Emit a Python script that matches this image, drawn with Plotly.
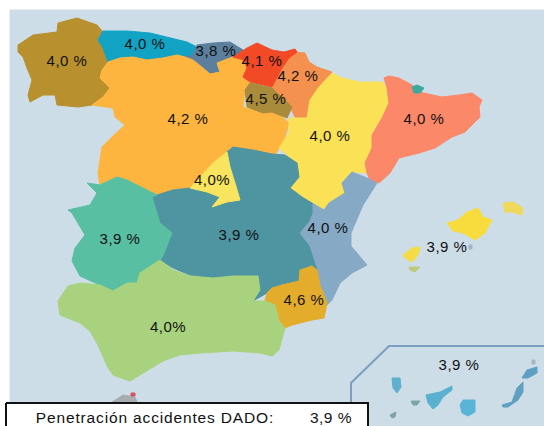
import plotly.graph_objects as go

W, H = 544, 426
SEA = "#cddde8"

# Region outlines (x, y in picture pixels)
sea = [(10,10),(544,10),(544,426),(10,426)]
galicia = [(18,45),(33,35),(57,32),(58,23),(77,18),(97,25),(103,32),(98,40),(103,48),(108,62),(102,70),(100,78),(110,88),(103,97),(92,105),(78,107),(57,105),(55,95),(43,95),(30,102),(28,95),(32,80),(27,68),(23,57),(18,52)]
asturias = [(103,31),(127,31),(150,33),(167,37),(187,42),(197,47),(193,55),(185,57),(177,55),(163,58),(147,60),(133,57),(120,58),(108,62),(103,48),(98,40)]
cantabria = [(197,45),(213,43),(230,42),(243,50),(233,57),(230,58),(217,63),(220,72),(210,74),(203,68),(193,60),(185,57),(193,55)]
pais_vasco = [(233,57),(247,48),(257,43),(272,50),(284,52),(295,49),(297,52),(289,58),(282,68),(276,80),(272,87),(250,82),(243,77),(247,68),(244,60)]
navarra = [(295,52),(305,53),(309,62),(317,67),(332,72),(319,87),(310,100),(307,118),(295,117),(289,105),(274,93),(272,87),(276,80),(282,68),(289,58)]
rioja = [(245,90),(250,83),(272,88),(282,98),(292,107),(287,118),(280,115),(272,112),(263,113),(247,107)]
castilla_leon = [(108,62),(120,58),(133,57),(147,60),(163,58),(177,55),(185,57),(193,60),(203,68),(210,74),(220,72),(217,63),(230,58),(233,57),(244,60),(247,68),(243,77),(250,83),(245,90),(243,107),(263,113),(272,112),(280,115),(289,123),(285,137),(280,147),(275,155),(272,154),(253,150),(233,147),(227,152),(213,163),(190,188),(173,190),(157,195),(147,190),(127,180),(117,177),(100,185),(98,173),(102,147),(112,137),(125,125),(115,117),(113,108),(92,105),(103,97),(110,88),(100,78),(102,70)]
madrid = [(227,152),(230,167),(235,183),(240,200),(227,202),(212,207),(220,197),(207,192),(190,188),(213,163)]
aragon = [(332,73),(342,78),(359,82),(382,82),(387,88),(389,103),(382,118),(375,128),(372,135),(372,148),(365,163),(367,173),(352,172),(342,183),(345,193),(329,203),(324,210),(312,203),(302,197),(290,188),(299,177),(295,167),(290,157),(279,148),(289,133),(289,118),(307,118),(310,100),(319,87)]
cataluna = [(384,78),(389,76),(399,78),(412,85),(419,92),(432,95),(442,97),(459,95),(472,93),(482,100),(479,107),(480,117),(465,132),(452,137),(435,148),(419,153),(399,158),(390,173),(379,183),(370,180),(367,173),(365,163),(372,148),(372,135),(382,118),(389,103),(387,88)]
andorra = [(412,87),(417,85),(424,88),(420,93),(414,93)]
valencia = [(352,172),(367,178),(377,183),(363,205),(351,233),(351,246),(367,265),(352,273),(340,283),(332,300),(327,305),(320,285),(317,270),(309,246),(299,233),(309,221),(312,213),(312,203),(324,210),(329,203),(345,193),(342,183)]
mancha = [(227,152),(233,147),(253,150),(272,154),(285,155),(297,163),(299,177),(290,188),(302,197),(312,203),(312,213),(309,221),(299,233),(309,246),(317,270),(312,266),(300,270),(299,281),(282,285),(272,288),(267,293),(253,301),(260,290),(258,276),(233,276),(213,278),(190,275),(173,268),(160,260),(172,233),(160,223),(157,213),(152,197),(157,195),(173,190),(190,188),(207,192),(220,197),(212,207),(227,202),(240,200),(235,183),(230,167)]
murcia = [(267,293),(272,288),(282,285),(299,281),(300,270),(312,266),(317,270),(320,285),(327,303),(324,318),(312,320),(292,325),(285,328),(279,321),(275,305),(265,301)]
extremadura = [(87,183),(100,185),(117,177),(127,180),(147,190),(157,195),(152,197),(157,213),(160,223),(172,233),(163,256),(160,260),(140,273),(137,283),(127,283),(113,291),(100,285),(80,276),(72,261),(75,248),(85,235),(72,213),(68,210),(90,205),(97,193)]
andalucia = [(160,260),(173,270),(190,276),(213,278),(233,276),(258,276),(260,290),(253,301),(265,301),(275,305),(279,321),(285,328),(279,350),(272,356),(260,353),(233,351),(200,353),(180,355),(163,361),(143,373),(130,381),(113,375),(107,366),(98,345),(90,331),(80,323),(60,315),(58,301),(68,286),(80,283),(100,285),(113,291),(127,283),(137,283),(140,273)]
mallorca = [(447,223),(458,220),(467,212),(478,208),(483,217),(492,220),(485,233),(475,240),(463,233),(453,231)]
menorca = [(503,203),(513,202),(523,208),(522,215),(512,212),(505,212)]
ibiza = [(403,255),(412,248),(420,247),(418,255),(412,262),(405,258)]
formentera = [(409,267),(420,267),(415,272),(410,270)]
cabrera = [(469,245),(472,245),(472,249),(469,249)]
la_palma = [(392,378),(400,378),(401,387),(397,393),(393,388)]
la_gomera = [(411,401),(420,401),(417,405),(413,405)]
el_hierro = [(390,415),(396,412),(395,417),(392,418)]
tenerife = [(426,395),(440,392),(452,386),(452,390),(443,397),(438,405),(433,409),(428,403)]
gran_canaria = [(460,405),(463,400),(475,400),(475,412),(468,416),(462,413)]
fuerteventura = [(502,405),(512,402),(517,388),(523,382),(523,392),(518,400),(508,407),(503,407)]
lanzarote = [(522,378),(527,370),(537,367),(537,373),(528,378)]
graciosa = [(532,360),(535,360),(535,364),(532,364)]
gibraltar = [(112,402),(123,395),(135,397),(137,402)]
ceuta = [(131,393),(135,393),(135,396),(131,396)]
legend_box = [(6,403),(368,403),(368,440),(6,440)]
canary_frame = [(351,426),(351,383),(389,346),(544,346)]

# Labels
label_text = ["4,0 %","4,0 %","3,8 %","4,1 %","4,2 %","4,5 %","4,2 %","4,0%","4,0 %","4,0 %","4,0 %","3,9 %","3,9 %","3,9 %","4,6 %","4,0%","3,9 %"]
label_x = [67,145,216,262,298,266,188,212,330,424,328,447,120,239,304,168,459]
label_y = [62,45,52,62,77,100,120,181,137,120,229,248,240,236,301,328,366]
legend_text = ["Penetración accidentes DADO:", "3,9 %"]
legend_x = [155, 331]
legend_y = [419, 419]

regions = [
    (sea, SEA), (galicia, "#b9902e"), (asturias, "#12a3c4"), (cantabria, "#5b7f9c"),
    (castilla_leon, "#fdb53f"), (navarra, "#f5914f"), (pais_vasco, "#f24a26"), (rioja, "#a98b3c"),
    (aragon, "#fae156"), (cataluna, "#fa8869"), (andorra, "#3fa89c"), (valencia, "#86a9c6"),
    (mancha, "#4f94a1"), (madrid, "#f8e45e"), (murcia, "#e3ac2a"), (extremadura, "#58bfa3"),
    (andalucia, "#a8d27d"), (mallorca, "#f8dc3d"), (menorca, "#efd95a"), (ibiza, "#f5dc45"),
    (formentera, "#bccb7c"), (cabrera, "#a3b5c5"), (la_palma, "#5fafcf"), (la_gomera, "#7ba6a9"),
    (el_hierro, "#7fa3a8"), (tenerife, "#5bb0d0"), (gran_canaria, "#5ab4d6"),
    (fuerteventura, "#5f9fc2"), (lanzarote, "#5f9fc2"), (graciosa, "#a5b5c2"),
    (gibraltar, "#a8aeb0"), (ceuta, "#d9505f"),
]

fig = go.Figure()
for outline, colour in regions:
    fig.add_trace(go.Scatter(
        x=[p[0] for p in outline] + [outline[0][0]],
        y=[p[1] for p in outline] + [outline[0][1]],
        mode="lines", fill="toself", fillcolor=colour,
        line=dict(color=colour, width=1), hoverinfo="skip", showlegend=False))

fig.add_trace(go.Scatter(
    x=[p[0] for p in canary_frame], y=[p[1] for p in canary_frame], mode="lines",
    line=dict(color="#7a9fc0", width=2), hoverinfo="skip", showlegend=False))
fig.add_trace(go.Scatter(
    x=[p[0] for p in legend_box] + [legend_box[0][0]],
    y=[p[1] for p in legend_box] + [legend_box[0][1]],
    mode="lines", fill="toself", fillcolor="white",
    line=dict(color="#111111", width=2), hoverinfo="skip", showlegend=False))
fig.add_trace(go.Scatter(
    x=label_x, y=label_y, text=label_text, mode="text", textposition="middle center",
    textfont=dict(family="Liberation Sans", size=15, color="#111111"),
    hoverinfo="skip", showlegend=False))
fig.add_trace(go.Scatter(
    x=legend_x, y=legend_y, text=legend_text, mode="text", textposition="middle center",
    textfont=dict(family="Liberation Sans", size=15.5, color="#111111"),
    hoverinfo="skip", showlegend=False))

fig.update_layout(
    width=W, height=H, margin=dict(l=0, r=0, t=0, b=0),
    paper_bgcolor="white", plot_bgcolor="white",
    xaxis=dict(range=[0, W], visible=False, fixedrange=True),
    yaxis=dict(range=[H, 0], visible=False, fixedrange=True),
)
post = """
document.body.style.margin = '0';
document.body.style.overflow = 'hidden';
document.querySelectorAll('.textpoint text').forEach(function (t) {
  t.style.letterSpacing = t.textContent.length > 10 ? '0.85px' : '0.5px';
});
"""
fig.write_html("out.html", config={"displayModeBar": False}, post_script=post)
